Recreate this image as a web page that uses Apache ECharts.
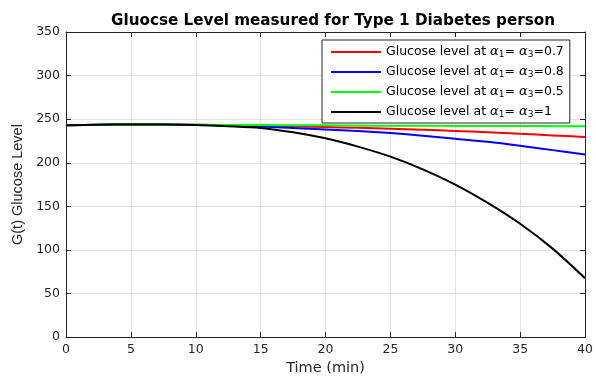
<!DOCTYPE html>
<html>
<head>
<meta charset="utf-8">
<script src="https://cdn.jsdelivr.net/npm/echarts@6/dist/echarts.min.js"></script>
<style>html,body{margin:0;padding:0;background:#fff}#c{width:596px;height:381px}</style>
</head>
<body>
<div id="c"></div>
<script>
var times = [0,2.5,5,7.5,10,12.5,15,17.5,20,22.5,25,27.5,30,32.5,35,37.5,40];
var g07 = [243,243.6,243.9,243.9,243.6,243.1,242.5,241.8,241,240.1,239,237.8,236.5,235,233.2,231.4,229.5];
var g08 = [243,243.6,243.9,243.8,243.4,242.6,241.5,240,238.2,236.3,234,231,227.5,224,219.5,214.5,209.5];
var g05 = [243,243.5,243.7,243.7,243.6,243.4,243.2,243,242.9,242.7,242.5,242.4,242.3,242.2,242.1,242,241.9];
var g10 = [243,243.6,243.9,243.9,243.3,242,240,235,228,218.5,207,192.5,175,154,130,101.5,67.5];
var seriesNames = ['a07','a08','a05','a10'];
var legendVals = {a07:'0.7', a08:'0.8', a05:'0.5', a10:'1'};
var xTicks = [0,5,10,15,20,25,30,35,40];
var yTicks = [0,50,100,150,200,250,300,350];

function pairs(v){ return times.map(function(t,i){ return [t, v[i]]; }); }
var font = 'DejaVu Sans, Liberation Sans, Arial, sans-serif';
var axisCol = '#262626';
var chart = echarts.init(document.getElementById('c'));
function mk(name, data, color){
  return {name:name, type:'line', data:pairs(data), smooth:0.3, showSymbol:false, symbol:'none',
    lineStyle:{color:color, width:2}, itemStyle:{color:color}};
}
chart.setOption({
  animation:false,
  backgroundColor:'#fff',
  title:{text:'Gluocse Level measured for Type 1 Diabetes person', left:328, top:9, textAlign:'center',
    textStyle:{fontFamily:font, fontSize:15.2, fontWeight:'bold', color:'#000'}},
  grid:{left:66, right:9, top:32, bottom:39},
  legend:{orient:'vertical', left:322, top:40, data:seriesNames, icon:'rect', itemWidth:50, itemHeight:2,
    itemGap:6, padding:[5,6,4,9], borderColor:'#262626', borderWidth:1, backgroundColor:'#fff',
    formatter:function(n){ return 'Glucose level at {i|α}{s|1}= {i|α}{s|3}=' + legendVals[n]; },
    textStyle:{fontFamily:font, fontSize:12.5, color:'#000', height:14, lineHeight:14,
      rich:{i:{fontFamily:'DejaVu Serif, serif', fontStyle:'italic', fontSize:13, color:'#000'},
            s:{fontFamily:font, fontSize:9, color:'#000', verticalAlign:'bottom', padding:[7,0,0,0]}}}},
  xAxis:[{type:'value', min:0, max:40, interval:5, position:'bottom',
    name:'Time (min)', nameLocation:'middle', nameGap:21, nameTextStyle:{fontFamily:font, fontSize:14.5, color:axisCol},
    axisLine:{show:true, lineStyle:{color:axisCol, width:1}}, axisTick:{show:true, inside:true, length:5, lineStyle:{color:axisCol}},
    axisLabel:{fontFamily:font, fontSize:12.5, color:axisCol, margin:6},
    splitLine:{show:true, lineStyle:{color:'#e3e3e3', width:1}}},
    {type:'value', min:0, max:40, interval:5, position:'top',
    axisLine:{show:true, onZero:false, lineStyle:{color:axisCol, width:1}}, axisTick:{show:true, inside:true, length:5, lineStyle:{color:axisCol}},
    axisLabel:{show:false}, splitLine:{show:false}}],
  yAxis:[{type:'value', min:0, max:350, interval:50, position:'left',
    name:'G(t) Glucose Level', nameLocation:'middle', nameGap:35, nameTextStyle:{fontFamily:'Liberation Sans, Arial, sans-serif', fontSize:14.5, color:axisCol},
    axisLine:{show:true, lineStyle:{color:axisCol, width:1}}, axisTick:{show:true, inside:true, length:5, lineStyle:{color:axisCol}},
    axisLabel:{fontFamily:font, fontSize:12.5, color:axisCol, margin:6},
    splitLine:{show:true, lineStyle:{color:'#e3e3e3', width:1}}},
    {type:'value', min:0, max:350, interval:50, position:'right',
    axisLine:{show:true, onZero:false, lineStyle:{color:axisCol, width:1}}, axisTick:{show:true, inside:true, length:5, lineStyle:{color:axisCol}},
    axisLabel:{show:false}, splitLine:{show:false}}],
  series:[mk('a07', g07, '#ff0000'), mk('a08', g08, '#0000ff'), mk('a05', g05, '#00ff00'), mk('a10', g10, '#000000')]
});
</script>
</body>
</html>
